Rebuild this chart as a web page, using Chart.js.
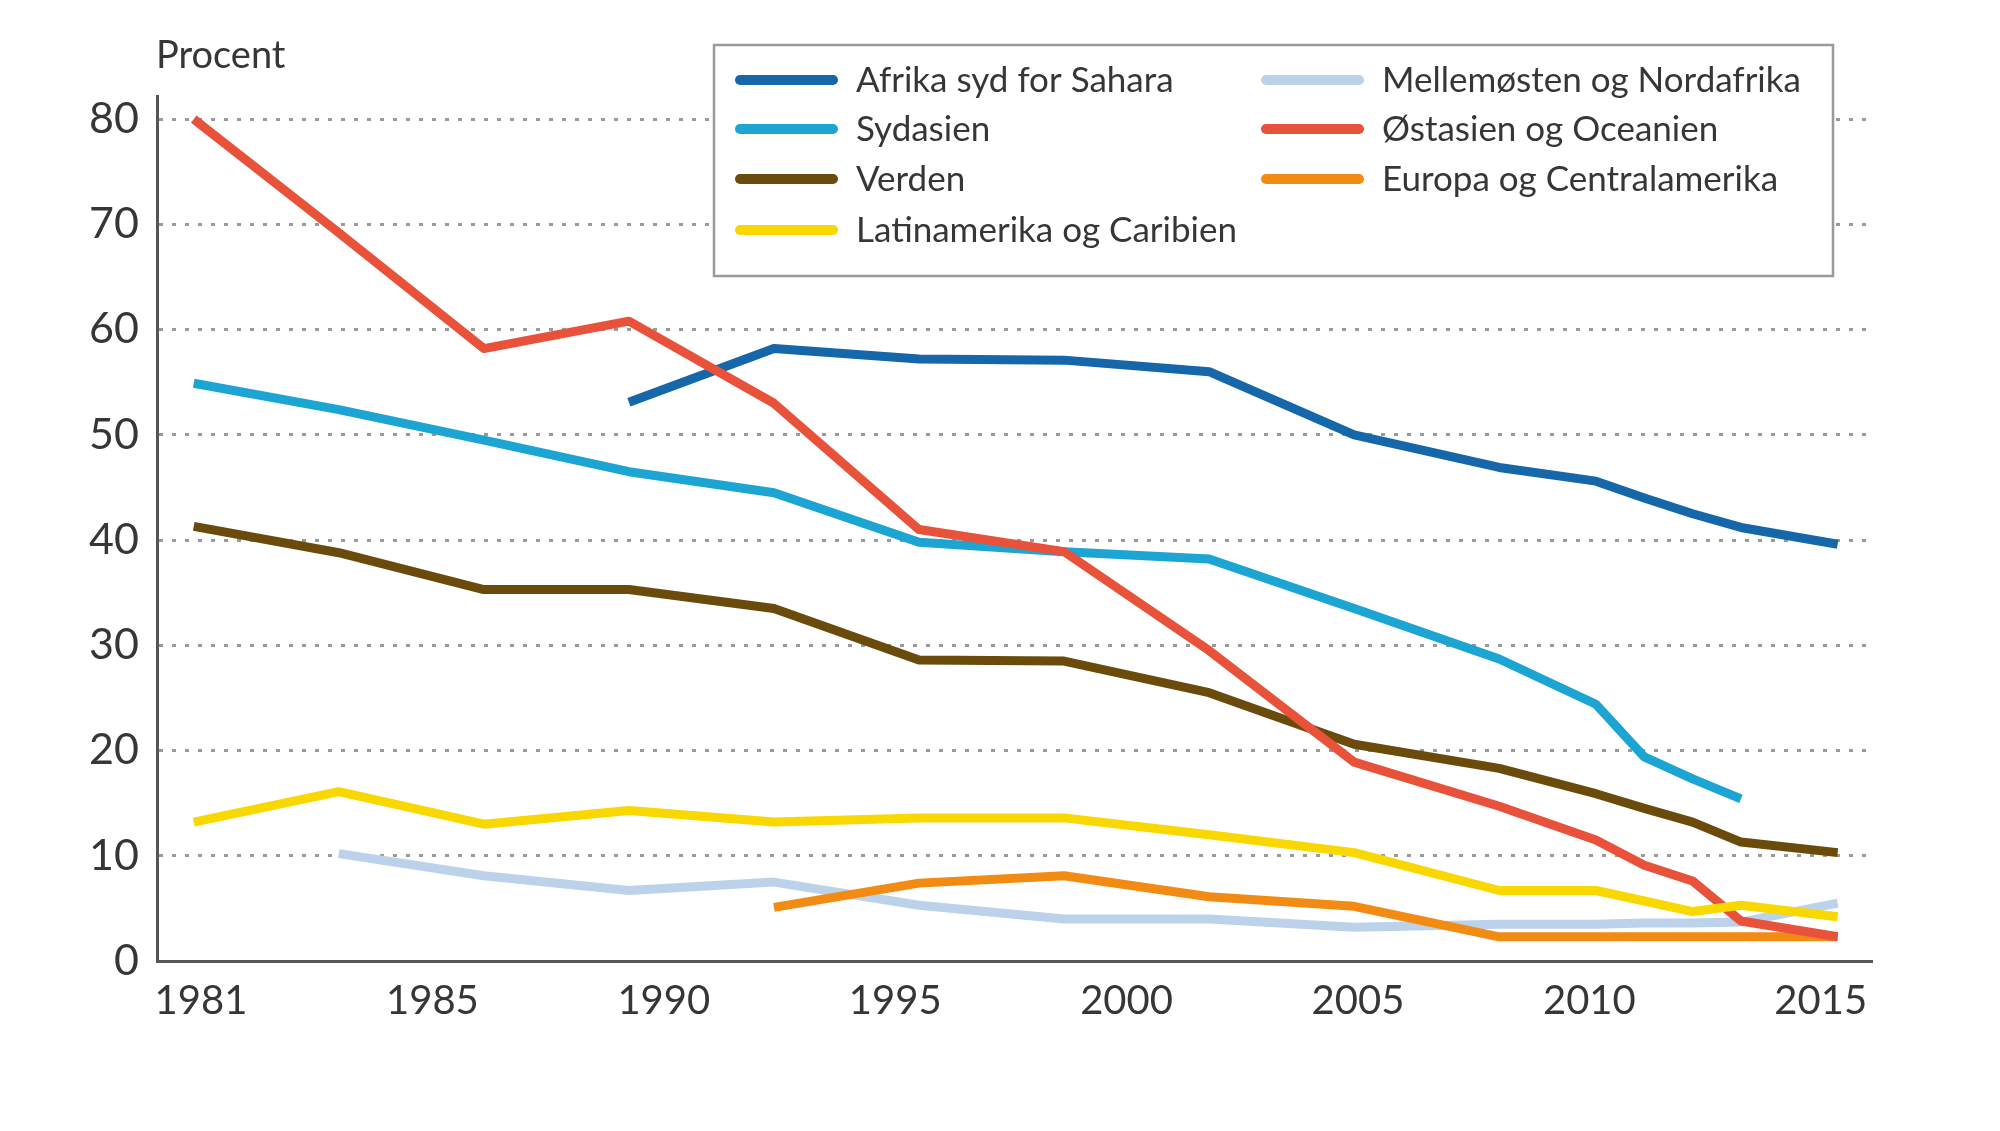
<!DOCTYPE html>
<html lang="da">
<head>
    <meta charset="UTF-8">
    <title>Procent</title>
    <script src="https://cdn.jsdelivr.net/npm/chart.js"></script>
    <style>
        html, body { margin: 0; padding: 0; background: #ffffff; }
        #wrap { width: 2000px; height: 1131px; }
    </style>
</head>
<body>
<div id="wrap"><canvas id="myChart" width="2000" height="1131"></canvas></div>
<script>
    // Data
    const years = [1981, 1984, 1987, 1990, 1993, 1996, 1999, 2002, 2005, 2008, 2010, 2011, 2012, 2013, 2015];
    const tickLabels = ['1981', '1985', '1990', '1995', '2000', '2005', '2010', '2015'];

    const afrika      = [null, null, null, 53.1, 58.2, 57.2, 57.1, 56.0, 50.0, 46.9, 45.6, 44.0, 42.5, 41.2, 39.6];
    const sydasien    = [54.9, 52.4, 49.5, 46.5, 44.5, 39.8, 38.9, 38.2, 33.5, 28.7, 24.4, 19.4, 17.3, 15.4, null];
    const verden      = [41.3, 38.8, 35.3, 35.3, 33.5, 28.6, 28.5, 25.5, 20.6, 18.3, 15.9, 14.5, 13.2, 11.3, 10.3];
    const latinamerika= [13.2, 16.1, 13.0, 14.3, 13.2, 13.6, 13.6, 12.0, 10.3, 6.7, 6.7, 5.7, 4.7, 5.3, 4.2];
    const mellemosten = [null, 10.2, 8.1, 6.7, 7.5, 5.3, 4.0, 4.0, 3.2, 3.5, 3.5, 3.6, 3.6, 3.7, 5.5];
    const ostasien    = [80.0, 69.2, 58.2, 60.8, 53.0, 41.0, 38.9, 29.5, 18.9, 14.7, 11.5, 9.1, 7.6, 3.8, 2.3];
    const europa      = [null, null, null, null, 5.1, 7.4, 8.1, 6.1, 5.2, 2.3, 2.3, 2.3, 2.3, 2.3, 2.3];

    const seriesNames = ['Afrika syd for Sahara', 'Sydasien', 'Verden', 'Latinamerika og Caribien',
                         'Mellemøsten og Nordafrika', 'Østasien og Oceanien', 'Europa og Centralamerika'];
    const seriesValues = [afrika, sydasien, verden, latinamerika, mellemosten, ostasien, europa];
    const seriesColors = ['#1666aa', '#1ca5d3', '#6a4b0c', '#f8d800', '#bcd2ea', '#e8523a', '#f28b14'];
    const drawOrder = [3, 4, 5, 1, 7, 2, 6]; // higher = drawn earlier (below)

    const FONT = 'Lato, "Open Sans", sans-serif';
    const TEXT = '#363636';

    function toPoints(values) {
        const pts = [];
        values.forEach((v, i) => { if (v !== null) pts.push({ x: years[i], y: v }); });
        return pts;
    }

    const datasets = seriesNames.map((name, i) => ({
        label: name,
        data: toPoints(seriesValues[i]),
        borderColor: seriesColors[i],
        backgroundColor: seriesColors[i],
        borderWidth: 9,
        pointRadius: 0,
        tension: 0,
        fill: false,
        order: drawOrder[i],
        borderJoinStyle: 'round'
    }));

    // Two-column legend in a box, plus the "Procent" title
    const boxLegend = {
        id: 'boxLegend',
        afterDraw(chart) {
            const ctx = chart.ctx;
            ctx.save();
            ctx.fillStyle = TEXT;
            ctx.font = '38px ' + FONT;
            ctx.textBaseline = 'middle';
            ctx.textAlign = 'left';
            ctx.fillText('Procent', 156, 56);

            ctx.fillStyle = '#ffffff';
            ctx.fillRect(714, 45, 1119, 231);
            ctx.strokeStyle = '#9a9a9a';
            ctx.lineWidth = 2.5;
            ctx.strokeRect(714, 45, 1119, 231);

            const cols = [{ x: 740, items: [0, 1, 2, 3] }, { x: 1266, items: [4, 5, 6] }];
            const rowY = [80, 129, 179, 230];
            ctx.font = '35px ' + FONT;
            ctx.lineCap = 'round';
            cols.forEach(col => {
                col.items.forEach((idx, r) => {
                    const ds = chart.data.datasets[idx];
                    ctx.strokeStyle = ds.borderColor;
                    ctx.lineWidth = 10;
                    ctx.beginPath();
                    ctx.moveTo(col.x, rowY[r]);
                    ctx.lineTo(col.x + 93, rowY[r]);
                    ctx.stroke();
                    ctx.fillStyle = TEXT;
                    ctx.fillText(ds.label, col.x + 116, rowY[r] + 1);
                });
            });
            ctx.restore();
        }
    };

    const ctx = document.getElementById('myChart').getContext('2d');
    const myChart = new Chart(ctx, {
        type: 'line',
        data: { datasets: datasets },
        options: {
            responsive: false,
            animation: false,
            devicePixelRatio: 1,
            layout: { padding: { top: 96, right: 128, left: 0, bottom: 0 } },
            plugins: { legend: { display: false }, tooltip: { enabled: false } },
            scales: {
                x: {
                    type: 'linear',
                    min: 1980.24,
                    max: 2015.71,
                    afterBuildTicks(scale) {
                        const first = 1981.15, last = 2014.65;
                        const step = (last - first) / (tickLabels.length - 1);
                        scale.ticks = tickLabels.map((t, i) => ({ value: first + i * step }));
                    },
                    afterFit(scale) { scale.height = 170; },
                    ticks: {
                        autoSkip: false,
                        maxRotation: 0,
                        padding: 16,
                        color: TEXT,
                        font: { family: FONT, size: 40 },
                        callback: (value, index) => tickLabels[index]
                    },
                    grid: { display: false, drawTicks: false },
                    border: { display: true, color: '#555555', width: 3 }
                },
                y: {
                    min: 0,
                    max: 82.2,
                    afterBuildTicks(scale) {
                        scale.ticks = [0, 10, 20, 30, 40, 50, 60, 70, 80].map(v => ({ value: v }));
                    },
                    afterFit(scale) { scale.width = 157; },
                    ticks: {
                        padding: 18,
                        color: TEXT,
                        font: { family: FONT, size: 43 }
                    },
                    grid: {
                        drawTicks: false,
                        color: (c) => c.tick && c.tick.value === 0 ? 'rgba(0,0,0,0)' : '#9a9a9a',
                        lineWidth: 3
                    },
                    border: { display: true, color: '#555555', width: 3, dash: [4, 9] }
                }
            }
        },
        plugins: [boxLegend]
    });
</script>
</body>
</html>
